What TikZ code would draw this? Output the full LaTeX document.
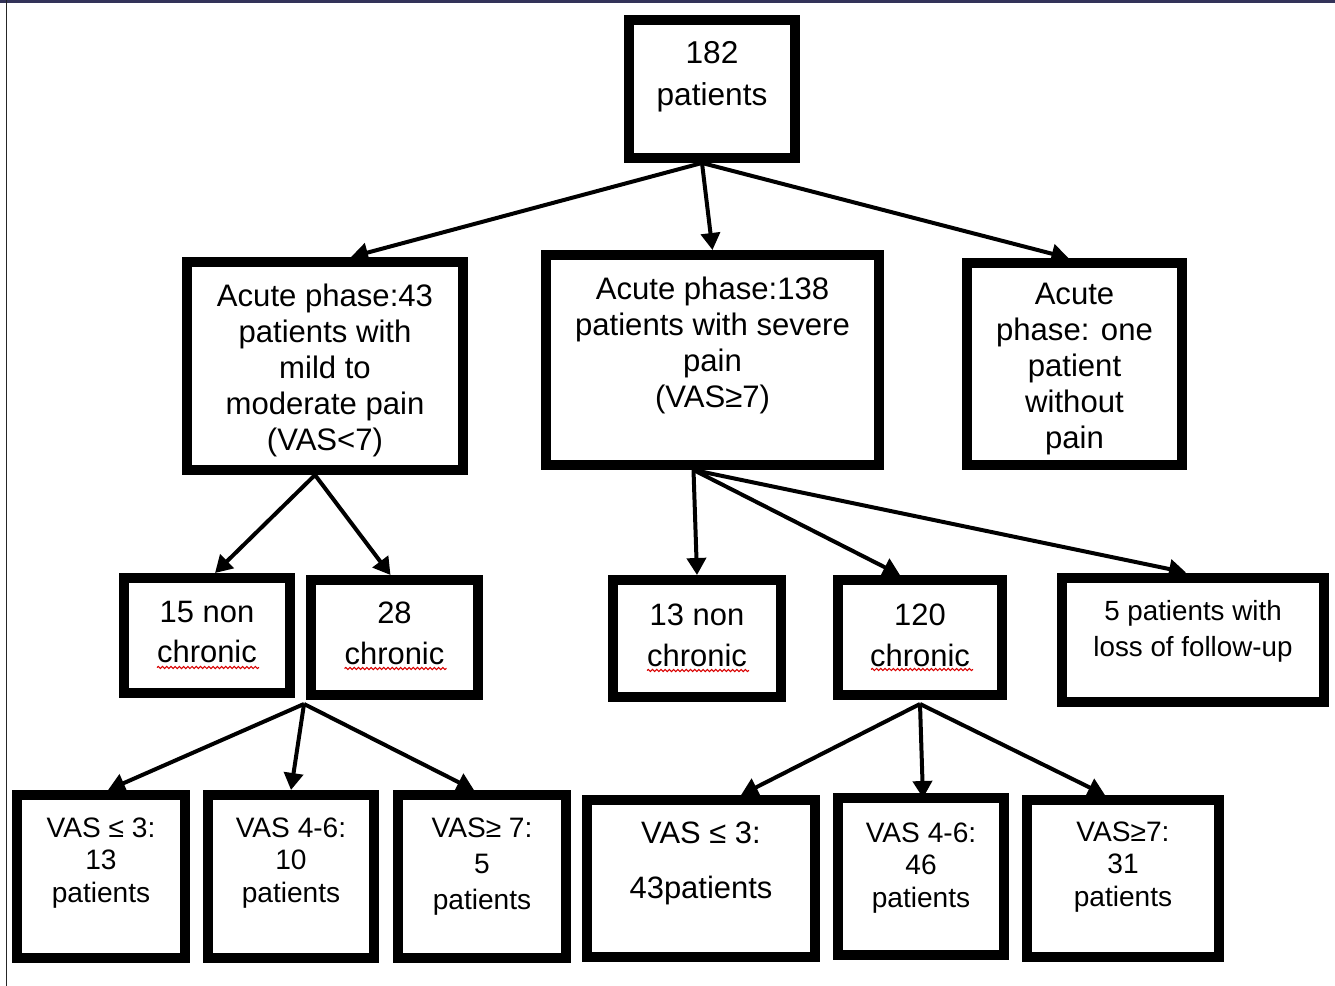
\documentclass[tikz,border=0pt]{standalone}
\usepackage{fontspec}
\setmainfont{Liberation Sans}
\usetikzlibrary{arrows.meta,calc,decorations.pathmorphing}

\begin{document}
\begin{tikzpicture}[
    x=0.02cm, y=-0.02cm,
    box/.style={rectangle, draw, line width=0.2cm, inner sep=0pt},
    txt/.style={align=center, inner sep=0pt},
    toptxt/.style={txt, font=\fontsize{18}{23.9}\selectfont},
    acutetxt/.style={txt, font=\fontsize{17.7}{20.5}\selectfont},
    chrtxt/.style={txt, font=\fontsize{17.6}{23.3}\selectfont},
    losttxt/.style={txt, font=\fontsize{15.8}{20.5}\selectfont},
    vastxt/.style={txt, font=\fontsize{16}{18.6}\selectfont},
    arrow/.style={-{Triangle[length=0.34cm,width=0.38cm]}, line width=0.08cm},
    spell/.style={red!85!black, line width=0.6pt, decorate, decoration={snake, amplitude=0.6pt, segment length=2.4pt}}
]
    \useasboundingbox (0,0) rectangle (1335,986);
    \fill[black!75!blue!60!gray] (0,0) rectangle (1335,3);
    \draw[black!85, line width=0.03cm] (6.5,0) -- (6.5,986);

    \node[box, minimum width=3.32cm, minimum height=2.76cm] (top182) at (712,89) {};
    \node[box, minimum width=5.52cm, minimum height=4.16cm] (acuteL) at (325,366) {};
    \node[box, minimum width=6.66cm, minimum height=4.2cm] (acuteM) at (712.5,360) {};
    \node[box, minimum width=4.3cm, minimum height=4.04cm] (acuteR) at (1074.5,364) {};
    \node[box, minimum width=3.32cm, minimum height=2.3cm] (non15) at (207,635.5) {};
    \node[box, minimum width=3.34cm, minimum height=2.3cm] (chr28) at (394.5,637.5) {};
    \node[box, minimum width=3.36cm, minimum height=2.34cm] (non13) at (697,638.5) {};
    \node[box, minimum width=3.28cm, minimum height=2.3cm] (chr120) at (920,637.5) {};
    \node[box, minimum width=5.24cm, minimum height=2.5cm] (lost5) at (1193,640) {};
    \node[box, minimum width=3.36cm, minimum height=3.26cm] (v13) at (101,876.5) {};
    \node[box, minimum width=3.32cm, minimum height=3.26cm] (v10) at (291,876.5) {};
    \node[box, minimum width=3.36cm, minimum height=3.26cm] (v5) at (482,876.5) {};
    \node[box, minimum width=4.56cm, minimum height=3.14cm] (v43) at (701,878.5) {};
    \node[box, minimum width=3.32cm, minimum height=3.14cm] (v46) at (921,876.5) {};
    \node[box, minimum width=3.84cm, minimum height=3.14cm] (v31) at (1123,878.5) {};

    \node[toptxt] (t182) at ($(top182)+(0,-12)$) {182\\patients};
    \node[acutetxt] (tacuteL) at ($(acuteL)+(0,4)$) {Acute phase:43\\patients with\\mild to\\moderate pain\\(VAS<7)};
    \node[acutetxt] (tacuteM) at ($(acuteM)+(0,-15)$) {Acute phase:138\\patients with severe\\pain\\(VAS≥7)};
    \node[acutetxt] (tacuteR) at ($(acuteR)+(0,5)$) {Acute\\phase: one\\patient\\without\\pain};
    \node[chrtxt] (tnon15) at ($(non15)+(0,-3.5)$) {15 non\\chronic};
    \node[chrtxt] (tchr28) at ($(chr28)+(0,-4.5)$) {28\\chronic};
    \node[chrtxt] (tnon13) at ($(non13)+(0,-3.5)$) {13 non\\chronic};
    \node[chrtxt] (tchr120) at ($(chr120)+(0,-2.5)$) {120\\chronic};
    \node[losttxt] (tlost5) at ($(lost5)+(0,-9)$) {5 patients with\\loss of follow-up};
    \node[vastxt] (tv13) at ($(v13)+(0,-13.5)$) {VAS ≤ 3:\\13\\patients};
    \node[vastxt] (tv10) at ($(v10)+(0,-13.5)$) {VAS 4-6:\\10\\patients};
    \node[vastxt, font=\fontsize{16}{20.5}\selectfont] (tv5) at ($(v5)+(0,-9.5)$) {VAS≥ 7:\\5\\patients};
    \node[txt, font=\fontsize{17.6}{31.3}\selectfont] (tv43) at ($(v43)+(0,-15.5)$) {VAS ≤ 3:\\43patients};
    \node[vastxt] (tv46) at ($(v46)+(0,-8.5)$) {VAS 4-6:\\46\\patients};
    \node[vastxt] (tv31) at ($(v31)+(0,-11.5)$) {VAS≥7:\\31\\patients};

    \draw[spell] ($(non15)+(-50,32)$) -- ++(102,0);
    \draw[spell] ($(chr28)+(-50,31)$) -- ++(102,0);
    \draw[spell] ($(non13)+(-50,32)$) -- ++(102,0);
    \draw[spell] ($(chr120)+(-49,32)$) -- ++(102,0);

    \draw[arrow] ($(top182.south)+(-10,0)$) -- ($(acuteL.north)+(26,0)$);
    \draw[arrow] ($(top182.south)+(-10,0)$) -- (acuteM.north);
    \draw[arrow] ($(top182.south)+(-10,0)$) -- ($(acuteR.north)+(-6,0)$);
    \draw[arrow] ($(acuteL.south)+(-10,0)$) -- ($(non15.north)+(8,0)$);
    \draw[arrow] ($(acuteL.south)+(-10,0)$) -- ($(chr28.north)+(-4,0)$);
    \draw[arrow] ($(acuteM.south)+(-19,0)$) -- (non13.north);
    \draw[arrow] ($(acuteM.south)+(-19,0)$) -- ($(chr120.north)+(-20,0)$);
    \draw[arrow] ($(acuteM.south)+(-19,0)$) -- ($(lost5.north)+(-7,0)$);
    \draw[arrow] ($(chr28.south west)+(-2,4)$) -- ($(v13.north)+(7,0)$);
    \draw[arrow] ($(chr28.south west)+(-2,4)$) -- (v10.north);
    \draw[arrow] ($(chr28.south west)+(-2,4)$) -- ($(v5.north)+(-8,0)$);
    \draw[arrow] ($(chr120.south)+(0,4)$) -- ($(v43.north)+(40,0)$);
    \draw[arrow] ($(chr120.south)+(0,4)$) -- ($(v46.north)+(2,5)$);
    \draw[arrow] ($(chr120.south)+(0,4)$) -- ($(v31.north)+(-18,0)$);
\end{tikzpicture}
\end{document}
